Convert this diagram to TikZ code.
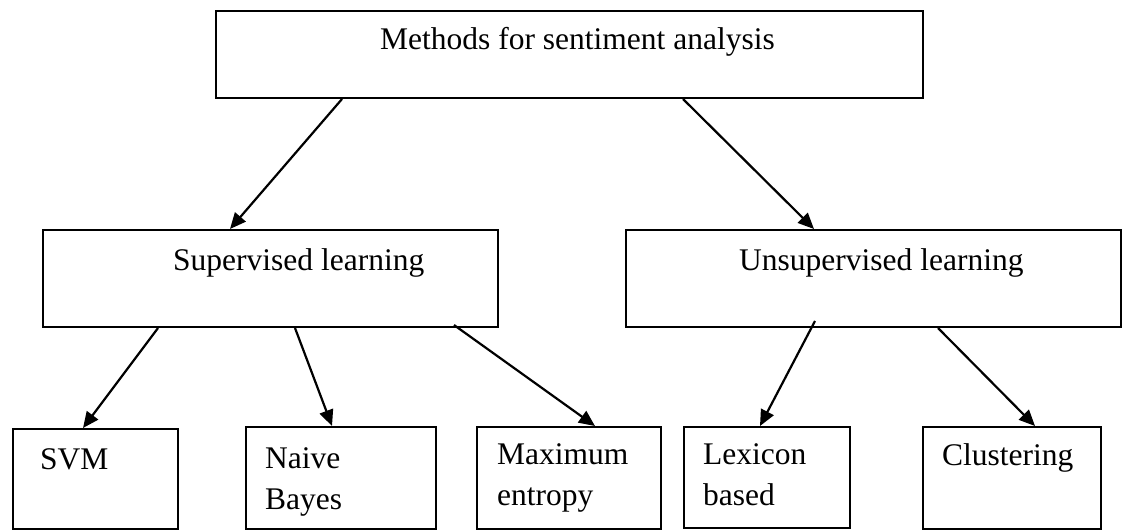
\documentclass[tikz,border=0pt]{standalone}
\usepackage{fontspec}
\setmainfont{Liberation Serif}
\usetikzlibrary{arrows.meta}
\begin{document}
\begin{tikzpicture}[x=1pt,y=-1pt,
  box/.style={draw, line width=2pt, inner sep=0pt, anchor=north west},
  lbl/.style={anchor=north west, inner sep=0pt, align=left,
    font=\fontsize{31.5}{41}\selectfont},
  arr/.style={line width=2.2pt, -{Triangle[length=16pt,width=14pt]}}]
\useasboundingbox (0,0) rectangle (1122,530);
% boxes
\node[box, minimum width=707pt, minimum height=87pt] (top) at (215,10) {};
\node[box, minimum width=455pt, minimum height=97pt] (sup) at (42,229) {};
\node[box, minimum width=495pt, minimum height=97pt] (uns) at (625,229) {};
\node[box, minimum width=165pt, minimum height=100pt] (svm) at (12,428) {};
\node[box, minimum width=190pt, minimum height=102pt] (nb) at (245,426) {};
\node[box, minimum width=184pt, minimum height=102pt] (me) at (476,426) {};
\node[box, minimum width=166pt, minimum height=101pt] (lex) at (683,426) {};
\node[box, minimum width=178pt, minimum height=102pt] (clu) at (922,426) {};
% labels
\node[lbl] (toptxt) at (380,27.5) {Methods for sentiment analysis};
\node[lbl] (suptxt) at (173,248.5) {Supervised learning};
\node[lbl] (unstxt) at (739,248.5) {Unsupervised learning};
\node[lbl] (svmtxt) at (40,448) {SVM};
\node[lbl] (nbtxt) at (265,447.5) {Naive\\Bayes};
\node[lbl] (metxt) at (497,443.5) {Maximum\\entropy};
\node[lbl] (lextxt) at (703,443.5) {Lexicon\\based};
\node[lbl] (clutxt) at (942,443.5) {Clustering};
% arrows
\draw[arr] ([xshift=127pt]top.south west) -- ([xshift=188pt]sup.north west);
\draw[arr] ([xshift=468pt]top.south west) -- ([xshift=189pt]uns.north west);
\draw[arr] ([xshift=116pt]sup.south west) -- ([xshift=71pt]svm.north west);
\draw[arr] ([xshift=253pt]sup.south west) -- ([xshift=87pt]nb.north west);
\draw[arr] ([xshift=412pt,yshift=3pt]sup.south west) -- ([xshift=119pt]me.north west);
\draw[arr] ([xshift=190pt,yshift=7pt]uns.south west) -- ([xshift=77pt]lex.north west);
\draw[arr] ([xshift=313pt]uns.south west) -- ([xshift=113pt]clu.north west);
\end{tikzpicture}
\end{document}
